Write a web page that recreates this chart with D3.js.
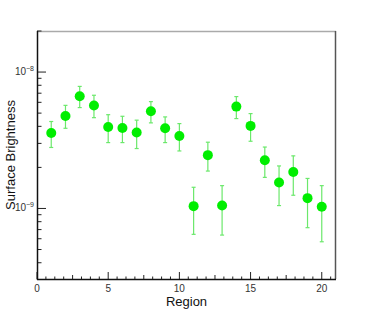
<!DOCTYPE html>
<html lang="en">
<head>
<meta charset="UTF-8">
<title>Surface Brightness</title>
<script src="https://d3js.org/d3.v7.min.js"></script>
<style>
  body { margin: 0; background: #fff; }
  svg { display: block; font-family: "Liberation Sans", Arial, sans-serif; }
</style>
</head>
<body>
<svg></svg>
<script>
const width = 374, height = 311;

// data
const regions = [1, 2, 3, 4, 5, 6, 7, 8, 9, 10, 11, 12, 13, 14, 15, 16, 17, 18, 19, 20];
const brightness = [3.58e-9, 4.76e-9, 6.64e-9, 5.68e-9, 3.96e-9, 3.89e-9, 3.60e-9, 5.16e-9, 3.87e-9, 3.40e-9,
                    1.04e-9, 2.46e-9, 1.05e-9, 5.58e-9, 4.03e-9, 2.26e-9, 1.55e-9, 1.85e-9, 1.19e-9, 1.03e-9];
const upper = [4.34e-9, 5.70e-9, 7.85e-9, 6.76e-9, 4.87e-9, 4.74e-9, 4.44e-9, 6.07e-9, 4.69e-9, 4.19e-9,
               1.43e-9, 3.06e-9, 1.47e-9, 6.61e-9, 4.96e-9, 2.82e-9, 2.05e-9, 2.43e-9, 1.66e-9, 1.47e-9];
const lower = [2.80e-9, 3.87e-9, 5.49e-9, 4.63e-9, 3.04e-9, 3.04e-9, 2.75e-9, 4.24e-9, 3.04e-9, 2.64e-9,
               6.46e-10, 1.88e-9, 6.38e-10, 4.56e-9, 3.11e-9, 1.69e-9, 1.05e-9, 1.25e-9, 7.23e-10, 5.70e-10];
const xTicks = [0, 5, 10, 15, 20];
const yDecades = [-9, -8];

const margin = {left: 37, right: 38, top: 31, bottom: 32};

const svg = d3.select("svg")
    .attr("width", width)
    .attr("height", height);

const x = d3.scaleLinear().domain([0, 21]).range([margin.left, width - margin.right]);
const y = d3.scaleLog().domain([3.04e-10, 2.0e-8]).range([height - margin.bottom, margin.top]);

const x0 = margin.left, x1 = width - margin.right;
const y0 = height - margin.bottom, y1 = margin.top;

// frame
svg.append("line").attr("x1", x0).attr("x2", x1).attr("y1", y1 + 0.5).attr("y2", y1 + 0.5)
    .attr("stroke", "#aaa").attr("stroke-width", 1.5);
svg.append("line").attr("x1", x1 - 0.5).attr("x2", x1 - 0.5).attr("y1", y1).attr("y2", y0)
    .attr("stroke", "#555").attr("stroke-width", 1.5);

// x axis ticks
const xMinor = d3.range(0, 21, 0.625);
svg.append("g").selectAll("line").data(xMinor).join("line")
    .attr("x1", d => x(d)).attr("x2", d => x(d))
    .attr("y1", y0)
    .attr("y2", d => d % 5 === 0 ? y0 - 7 : (d % 2.5 === 0 ? y0 - 4 : y0 - 2.5))
    .attr("stroke", "#222").attr("stroke-width", 1);
svg.append("line").attr("x1", x0).attr("x2", x1).attr("y1", y0 + 0.5).attr("y2", y0 + 0.5)
    .attr("stroke", "#111").attr("stroke-width", 1.5);
svg.append("g").selectAll("text").data(xTicks).join("text")
    .attr("x", d => x(d)).attr("y", y0 + 13)
    .attr("text-anchor", "middle")
    .attr("font-size", 10).attr("fill", "#333")
    .text(d => d);

// y axis ticks
const yMinor = [];
[-10, -9, -8].forEach(e => {
  for (let m = 1; m <= 9; m++) {
    const v = m * Math.pow(10, e);
    if (v >= y.domain()[0] && v <= y.domain()[1]) yMinor.push({v: v, major: m === 1});
  }
});
svg.append("g").selectAll("line").data(yMinor).join("line")
    .attr("x1", x0).attr("x2", d => d.major ? x0 + 9 : x0 + 4.5)
    .attr("y1", d => y(d.v)).attr("y2", d => y(d.v))
    .attr("stroke", "#222").attr("stroke-width", 1);
svg.append("line").attr("x1", x0 + 0.5).attr("x2", x0 + 0.5).attr("y1", y1).attr("y2", y0 + 1)
    .attr("stroke", "#111").attr("stroke-width", 1.5);

const yLab = svg.append("g").selectAll("text").data(yDecades).join("text")
    .attr("x", x0 - 3).attr("y", d => y(Math.pow(10, d)) + 3)
    .attr("text-anchor", "end")
    .attr("font-size", 10).attr("fill", "#333");
yLab.append("tspan").text("10");
yLab.append("tspan").attr("dy", -4).attr("font-size", 7).text(d => "\u2212" + (-d));

// axis titles
svg.append("text")
    .attr("x", (x0 + x1) / 2 + 0).attr("y", height - 5)
    .attr("text-anchor", "middle")
    .attr("font-size", 13).attr("fill", "#111")
    .text("Region");
svg.append("text")
    .attr("transform", `translate(15,${(y0 + y1) / 2}) rotate(-90)`)
    .attr("text-anchor", "middle")
    .attr("font-size", 13).attr("fill", "#111")
    .text("Surface Brightness");

// error bars
const pts = regions.map((r, i) => ({r: r, v: brightness[i], hi: upper[i], lo: lower[i]}));
const errColor = "#6be86b";
const eb = svg.append("g").attr("stroke", errColor).attr("stroke-width", 1.2);
eb.selectAll(".bar").data(pts).join("line")
    .attr("x1", d => x(d.r)).attr("x2", d => x(d.r))
    .attr("y1", d => y(d.hi)).attr("y2", d => y(d.lo));
eb.selectAll(".capHi").data(pts).join("line")
    .attr("x1", d => x(d.r) - 2).attr("x2", d => x(d.r) + 2)
    .attr("y1", d => y(d.hi)).attr("y2", d => y(d.hi));
eb.selectAll(".capLo").data(pts).join("line")
    .attr("x1", d => x(d.r) - 2).attr("x2", d => x(d.r) + 2)
    .attr("y1", d => y(d.lo)).attr("y2", d => y(d.lo));

// markers
svg.append("g").selectAll("circle").data(pts).join("circle")
    .attr("cx", d => x(d.r)).attr("cy", d => y(d.v))
    .attr("r", 5)
    .attr("fill", "#00ee00");
</script>
</body>
</html>
